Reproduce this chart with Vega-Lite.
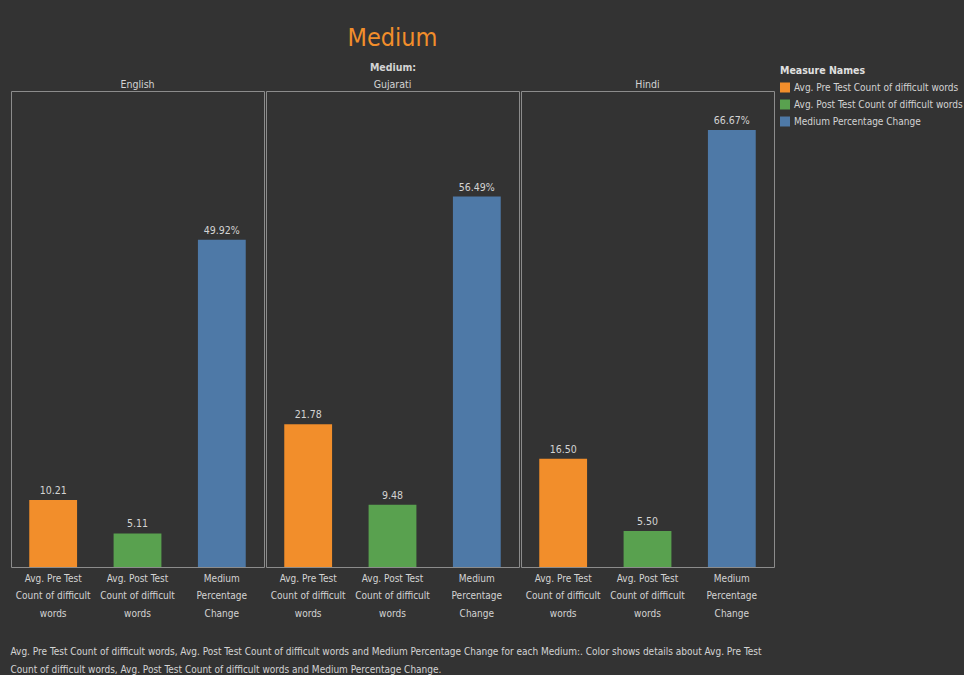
{
  "$schema": "https://vega.github.io/schema/vega-lite/v6.json",
  "background": "#333333",
  "padding": {"left": 10, "top": 25, "right": 0, "bottom": 0},
  "config": {
    "font": "'Liberation Sans Narrow', 'DejaVu Sans Condensed', 'Roboto Condensed', 'Liberation Sans', sans-serif",
    "view": {"stroke": "#8c8c8c", "strokeWidth": 1}
  },
  "title": {
    "text": [
      "Avg. Pre Test Count of difficult words, Avg. Post  Test Count of difficult words and Medium Percentage Change for each Medium:.  Color shows details about Avg. Pre Test",
      "Count of difficult words, Avg. Post  Test Count of difficult words and Medium Percentage Change."
    ],
    "orient": "bottom",
    "anchor": "start",
    "offset": 29,
    "color": "#d4d4d4",
    "fontSize": 10,
    "fontWeight": "normal",
    "lineHeight": 18
  },
  "vconcat": [
    {
      "title": {
        "text": "Medium",
        "color": "#F28E2B",
        "fontSize": 25,
        "fontWeight": "normal",
        "anchor": "middle",
        "offset": 12
      },
      "data": {
        "values": [
          {"Medium": "English", "Measure": "Avg. Pre Test Count of difficult words", "Value": 10.21},
          {"Medium": "English", "Measure": "Avg. Post  Test Count of difficult words", "Value": 5.11},
          {"Medium": "English", "Measure": "Medium Percentage Change", "Value": 49.92},
          {"Medium": "Gujarati", "Measure": "Avg. Pre Test Count of difficult words", "Value": 21.78},
          {"Medium": "Gujarati", "Measure": "Avg. Post  Test Count of difficult words", "Value": 9.48},
          {"Medium": "Gujarati", "Measure": "Medium Percentage Change", "Value": 56.49},
          {"Medium": "Hindi", "Measure": "Avg. Pre Test Count of difficult words", "Value": 16.50},
          {"Medium": "Hindi", "Measure": "Avg. Post  Test Count of difficult words", "Value": 5.50},
          {"Medium": "Hindi", "Measure": "Medium Percentage Change", "Value": 66.67}
        ]
      },
      "transform": [
        {"calculate": "datum.Measure == 'Medium Percentage Change' ? format(datum.Value, '.2f') + '%' : format(datum.Value, '.2f')", "as": "Label"}
      ],
      "facet": {
        "column": {
          "field": "Medium",
          "type": "nominal",
          "title": "Medium:",
          "header": {
            "titleColor": "#d4d4d4",
            "titleFontSize": 10.5,
            "titleFontWeight": "bold",
            "titlePadding": -4,
            "labelColor": "#d4d4d4",
            "labelFontSize": 10.5,
            "labelPadding": 0
          }
        }
      },
      "spacing": 0,
      "spec": {
        "width": 253,
        "height": 476,
        "encoding": {
          "x": {
            "field": "Measure",
            "type": "nominal",
            "sort": ["Avg. Pre Test Count of difficult words", "Avg. Post  Test Count of difficult words", "Medium Percentage Change"],
            "scale": {"paddingInner": 0.433, "paddingOuter": 0.2165},
            "axis": {
              "title": null,
              "labelAngle": 0,
              "domain": false,
              "ticks": false,
              "labelColor": "#d4d4d4",
              "labelFontSize": 10,
              "labelLineHeight": 17.5,
              "labelPadding": 5,
              "labelLimit": 200,
              "labelExpr": "datum.value == 'Medium Percentage Change' ? ['Medium', 'Percentage', 'Change'] : (indexof(datum.value, 'Post') >= 0 ? ['Avg. Post  Test', 'Count of difficult', 'words'] : ['Avg. Pre Test', 'Count of difficult', 'words'])"
            }
          },
          "y": {
            "field": "Value",
            "type": "quantitative",
            "scale": {"domain": [0, 72.6], "nice": false},
            "axis": null
          }
        },
        "layer": [
          {
            "mark": {"type": "bar"},
            "encoding": {
              "color": {
                "field": "Measure",
                "type": "nominal",
                "sort": ["Avg. Pre Test Count of difficult words", "Avg. Post  Test Count of difficult words", "Medium Percentage Change"],
                "scale": {
                  "domain": ["Avg. Pre Test Count of difficult words", "Avg. Post  Test Count of difficult words", "Medium Percentage Change"],
                  "range": ["#F28E2B", "#59A14F", "#4E79A7"]
                },
                "legend": {
                  "title": "Measure Names",
                  "titleColor": "#e0e0e0",
                  "titleFontSize": 10.5,
                  "titleFontWeight": "bold",
                  "labelColor": "#d4d4d4",
                  "labelFontSize": 10,
                  "labelLimit": 300,
                  "symbolType": "square",
                  "symbolSize": 100,
                  "symbolStrokeWidth": 0,
                  "rowPadding": 7,
                  "titlePadding": 6,
                  "orient": "none",
                  "legendX": 769,
                  "legendY": -25,
                  "padding": 0
                }
              }
            }
          },
          {
            "mark": {"type": "text", "baseline": "bottom", "dy": -4, "fontSize": 10.5, "color": "#d4d4d4"},
            "encoding": {"text": {"field": "Label"}}
          }
        ]
      }
    }
  ]
}
